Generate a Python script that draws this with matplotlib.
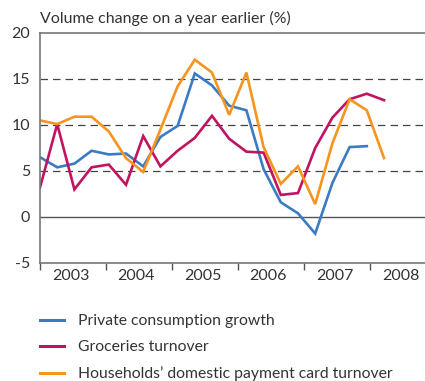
import numpy as np
import matplotlib
matplotlib.use("Agg")
import matplotlib.pyplot as plt
from matplotlib.lines import Line2D

plt.rcParams['font.family'] = ['Lato', 'DejaVu Sans']
plt.rcParams['axes.unicode_minus'] = False

# quarterly values, 2003Q1 ..
private_consumption = [6.5, 5.4, 5.8, 7.2, 6.8, 6.9, 5.5, 8.7, 9.9, 15.6, 14.3, 12.1,
                       11.6, 5.2, 1.6, 0.4, -1.8, 3.7, 7.6, 7.7]
groceries = [3.2, 10.1, 3.0, 5.4, 5.7, 3.5, 8.8, 5.5, 7.2, 8.6, 11.0, 8.5,
             7.1, 7.0, 2.4, 2.6, 7.5, 10.8, 12.8, 13.4, 12.7]
card_turnover = [10.5, 10.1, 10.9, 10.9, 9.3, 6.4, 4.9, 9.5, 14.2, 17.1, 15.7, 11.1,
                 15.7, 7.6, 3.6, 5.5, 1.4, 8.0, 12.8, 11.6, 6.4]
years = ['2003', '2004', '2005', '2006', '2007', '2008']
labels = ['Private consumption growth', 'Groceries turnover',
          "Households\u2019 domestic payment card turnover"]
colors = ['#3a7cc3', '#c0145e', '#f7941e']

text_col = '#333333'
fig = plt.figure(figsize=(4.25, 3.81), dpi=100)
ax = fig.add_axes([40 / 425, 118 / 381, 1 - 40 / 425, 230 / 381])

for vals, c, lab in zip([private_consumption, groceries, card_turnover], colors, labels):
    ax.plot(np.arange(len(vals)), vals, color=c, lw=1.9, label=lab, solid_joinstyle='miter')

ax.set_ylim(-5, 20)
ax.set_xlim(0, 385 / 17.2)
ax.set_yticks([-5, 0, 5, 10, 15, 20])
for y in [5, 10, 15]:
    ax.axhline(y, color='#444444', lw=0.9, ls=(0, (6, 4)), zorder=0)
ax.axhline(0, color='#555555', lw=1.0, zorder=0)

year_w = 66 / 17.2
ax.set_xticks(np.arange(6) * year_w)
ax.set_xticks(np.arange(6) * year_w + year_w / 2 - 0.15, minor=True)
ax.set_xticklabels([])
ax.set_xticklabels(years, minor=True)
ax.tick_params(axis='x', which='major', direction='out', length=5, width=1, color='#555555')
ax.tick_params(axis='x', which='minor', length=0, pad=4, labelsize=11.5, labelcolor=text_col)
ax.tick_params(axis='y', length=0, pad=7, labelsize=11.5, labelcolor=text_col)

for s in ['left', 'top', 'bottom']:
    ax.spines[s].set_color('#777777')
    ax.spines[s].set_linewidth(1.2)
ax.spines['right'].set_visible(False)

fig.text(40 / 425, 1 - 18 / 381, 'Volume change on a year earlier (%)', fontsize=11.5,
         color=text_col, va='center', ha='left')

handles = [Line2D([], [], color=c, lw=2.2) for c in colors]
fig.legend(handles, labels, loc='upper left', bbox_to_anchor=(40 / 425, 1 - 314 / 381),
           frameon=False, fontsize=11.3, handlelength=1.55, handletextpad=0.9,
           borderpad=0, borderaxespad=0, labelspacing=0.78, labelcolor=text_col)

fig.savefig('out.png', dpi=100)
